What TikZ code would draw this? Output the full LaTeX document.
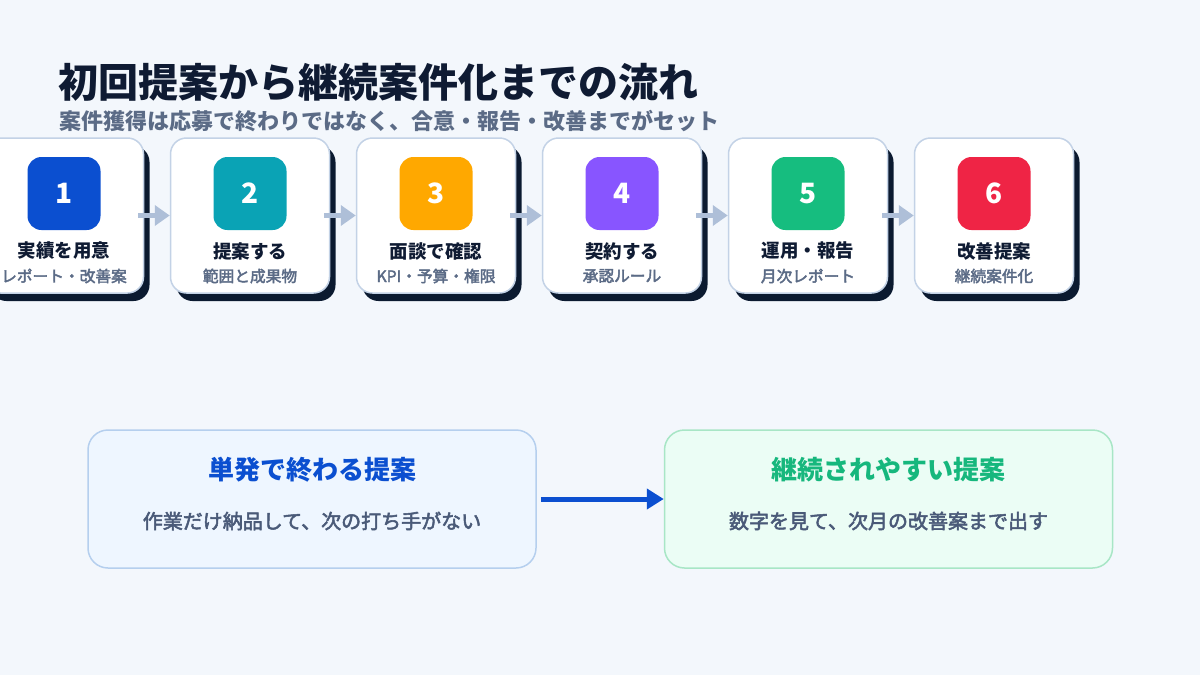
\documentclass[tikz,border=0pt]{standalone}
\usepackage{fontspec}
\setmainfont{Noto Sans CJK JP}
\newfontfamily\jpmed{Noto Sans CJK JP}[FakeBold=2.6]
\usetikzlibrary{arrows.meta,shadows}
\definecolor{bg}{HTML}{F3F7FC}
\definecolor{ink}{HTML}{0F1B33}
\definecolor{subink}{HTML}{5B6B86}
\definecolor{bodyink}{HTML}{4A5A78}
\definecolor{cardline}{HTML}{C3D2E6}
\definecolor{shadowc}{HTML}{0B1A30}
\definecolor{flowc}{HTML}{AEBFD8}
\definecolor{cA}{HTML}{0B4FD0}
\definecolor{cB}{HTML}{0AA3B5}
\definecolor{cC}{HTML}{FFA800}
\definecolor{cD}{HTML}{8855FF}
\definecolor{cE}{HTML}{16BD7F}
\definecolor{cF}{HTML}{EF2445}
\definecolor{leftfill}{HTML}{EEF6FF}
\definecolor{leftline}{HTML}{B5CFEE}
\definecolor{rightfill}{HTML}{EBFDF5}
\definecolor{rightline}{HTML}{A8E6C6}
\definecolor{greentxt}{HTML}{16B77D}
\begin{document}
\begin{tikzpicture}[x=1pt,y=-1pt,
  card/.style={draw=cardline, line width=1.5pt, fill=white, rounded corners=16pt,
    minimum width=159pt, minimum height=155pt, inner sep=0pt,
    general shadow={fill=shadowc, shadow xshift=6pt, shadow yshift=-8pt}},
  numbox/.style={rounded corners=14pt, minimum size=73pt, inner sep=0pt, text=white,
    font=\fontsize{28}{30}\selectfont\bfseries},
  cardtitle/.style={inner sep=0pt, text=ink, font=\fontsize{18.5}{22}\selectfont\bfseries},
  cardsub/.style={inner sep=0pt, text=subink, font=\jpmed\fontsize{15.7}{18}\selectfont},
  flow/.style={draw=flowc, line width=5pt, -{Triangle[length=15pt,width=20pt]}},
  panel/.style={rounded corners=20pt, line width=1.5pt, minimum width=448pt,
    minimum height=138pt, inner sep=0pt},
  paneltitle/.style={inner sep=0pt, font=\fontsize{26}{30}\selectfont\bfseries},
  panelsub/.style={inner sep=0pt, text=bodyink, font=\jpmed\fontsize{20}{24}\selectfont},
  bigflow/.style={draw=cA, line width=5pt, -{Triangle[length=17pt,width=20pt]}}
]
\fill[bg] (0,0) rectangle (1200,675);
\useasboundingbox (0,0) rectangle (1200,675);
\clip (0,0) rectangle (1200,675);

\node[anchor=west, inner sep=0pt, text=ink, font=\fontsize{40}{48}\selectfont\bfseries]
  (title) at (58,82) {初回提案から継続案件化までの流れ};
\node[anchor=west, inner sep=0pt, text=subink, font=\fontsize{22}{26}\selectfont\bfseries]
  (subtitle) at (59,121) {案件獲得は応募で終わりではなく、合意・報告・改善までがセット};

% cards
\node[card] (c1) at (64,215.5) {};
\node[card] (c2) at (250,215.5) {};
\node[card] (c3) at (436,215.5) {};
\node[card] (c4) at (622,215.5) {};
\node[card] (c5) at (808,215.5) {};
\node[card] (c6) at (994,215.5) {};

\node[numbox, fill=cA] (n1) at (64,193.5) {1};
\node[numbox, fill=cB] (n2) at (250,193.5) {2};
\node[numbox, fill=cC] (n3) at (436,193.5) {3};
\node[numbox, fill=cD] (n4) at (622,193.5) {4};
\node[numbox, fill=cE] (n5) at (808,193.5) {5};
\node[numbox, fill=cF] (n6) at (994,193.5) {6};

\node[cardtitle] (t1) at (64,251) {実績を用意};
\node[cardtitle] (t2) at (250,251) {提案する};
\node[cardtitle] (t3) at (436,251) {面談で確認};
\node[cardtitle] (t4) at (622,251) {契約する};
\node[cardtitle] (t5) at (808,251) {運用・報告};
\node[cardtitle] (t6) at (994,251) {改善提案};

\node[cardsub] (s1) at (64,276) {レポート・改善案};
\node[cardsub] (s2) at (250,276) {範囲と成果物};
\node[cardsub] (s3) at (436,276) {KPI・予算・権限};
\node[cardsub] (s4) at (622,276) {承認ルール};
\node[cardsub] (s5) at (808,276) {月次レポート};
\node[cardsub] (s6) at (994,276) {継続案件化};

\draw[flow] ([xshift=-6pt]c1.east) -- (c2.west);
\draw[flow] ([xshift=-6pt]c2.east) -- (c3.west);
\draw[flow] ([xshift=-6pt]c3.east) -- (c4.west);
\draw[flow] ([xshift=-6pt]c4.east) -- (c5.west);
\draw[flow] ([xshift=-6pt]c5.east) -- (c6.west);

% bottom panels
\node[panel, draw=leftline, fill=leftfill] (L) at (312,499) {};
\node[panel, draw=rightline, fill=rightfill] (R) at (888.5,499) {};
\node[paneltitle, text=cA] (Lt) at (312,470) {単発で終わる提案};
\node[panelsub] (Ls) at (312,521) {作業だけ納品して、次の打ち手がない};
\node[paneltitle, text=greentxt] (Rt) at (888.5,470) {継続されやすい提案};
\node[panelsub] (Rs) at (888.5,521) {数字を見て、次月の改善案まで出す};

\draw[bigflow] ([xshift=4pt]L.east) -- (R.west);
\end{tikzpicture}
\end{document}
